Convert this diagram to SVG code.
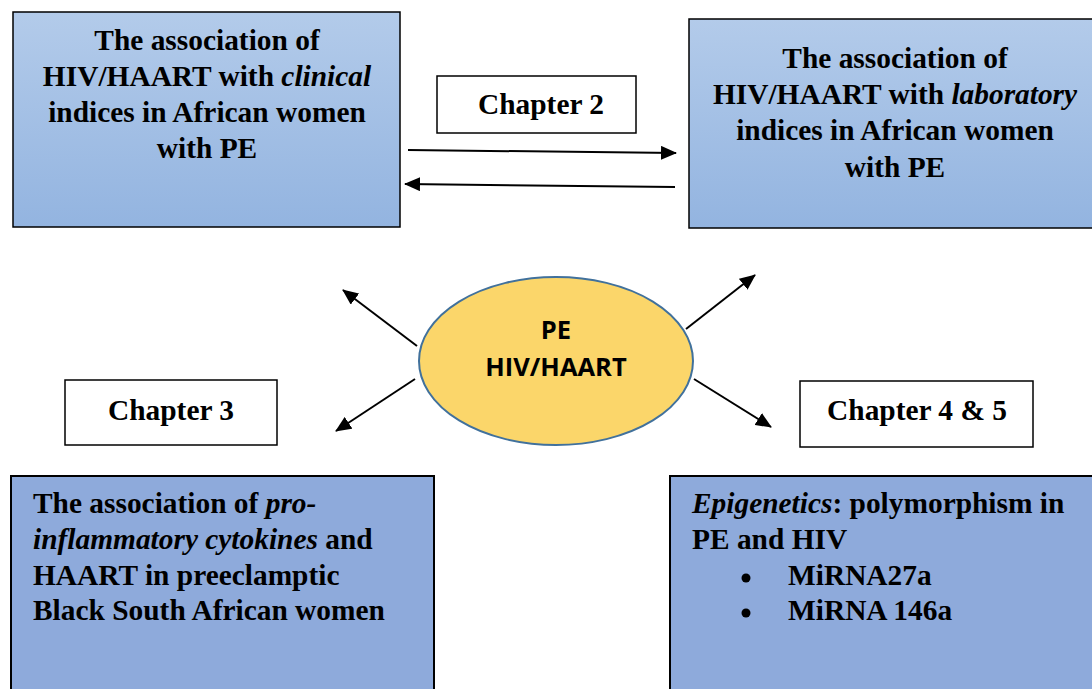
<svg xmlns="http://www.w3.org/2000/svg" width="1092" height="689" viewBox="0 0 1092 689">
<defs>
<linearGradient id="g" x1="0" y1="0" x2="0" y2="1">
<stop offset="0" stop-color="#b3cbea"/>
<stop offset="1" stop-color="#93b4e0"/>
</linearGradient>
<marker id="ah2" viewBox="0 0 16 14" refX="15" refY="7" markerWidth="16" markerHeight="14" markerUnits="userSpaceOnUse" orient="auto">
<path d="M0,0 L16,7 L0,14 z" fill="#000"/>
</marker>
</defs>
<style>
.t{font-family:"Liberation Serif","Times New Roman",serif;font-weight:bold;font-size:29.4px;fill:#000}
.c{text-anchor:middle}
.box{stroke:#000;stroke-width:1.5}
.lbl{fill:#fff;stroke:#000;stroke-width:1.5}
.bot{fill:#8eaadb;stroke:#000;stroke-width:2}
.con{stroke:#000;stroke-width:2;fill:none;marker-end:url(#ah2)}
.s{font-family:"Open Sans","Liberation Sans",sans-serif;font-weight:bold;font-size:25.5px;text-anchor:middle}
</style>
<g id="connectors">
<line class="con" x1="408" y1="150" x2="676" y2="153"/>
<line class="con" x1="675" y1="187" x2="405" y2="184"/>
<line class="con" x1="417" y1="346" x2="343" y2="290"/>
<line class="con" x1="415" y1="379" x2="336" y2="431"/>
<line class="con" x1="686" y1="329" x2="755" y2="275"/>
<line class="con" x1="694" y1="379" x2="771" y2="427"/>
</g>
<g id="clinical">
<rect class="box" x="13" y="12" width="387" height="215" fill="url(#g)"/>
<text class="t c" x="207" y="50">The association of</text>
<text class="t c" x="207" y="86">HIV/HAART with <tspan font-style="italic">clinical</tspan></text>
<text class="t c" x="207" y="122">indices in African women</text>
<text class="t c" x="207" y="158">with PE</text>
</g>
<g id="laboratory">
<rect class="box" x="689" y="19" width="410" height="209" fill="url(#g)"/>
<text class="t c" x="895" y="68">The association of</text>
<text class="t c" x="895" y="104">HIV/HAART with <tspan font-style="italic">laboratory</tspan></text>
<text class="t c" x="895" y="140">indices in African women</text>
<text class="t c" x="895" y="177">with PE</text>
</g>
<g id="chapter2">
<rect class="lbl" x="437" y="76" width="199" height="57"/>
<text class="t c" x="541" y="114">Chapter 2</text>
</g>
<g id="center">
<ellipse cx="556" cy="361" rx="137" ry="84" fill="#fbd66a" stroke="#41719c" stroke-width="2"/>
<text class="s" x="556" y="339">PE</text>
<text class="s" x="556" y="376">HIV/HAART</text>
</g>
<g id="chapter3">
<rect class="lbl" x="65" y="380" width="212" height="65"/>
<text class="t c" x="171" y="420">Chapter 3</text>
</g>
<g id="chapter45">
<rect class="lbl" x="800" y="381" width="233" height="66"/>
<text class="t c" x="917" y="420">Chapter 4 &amp; 5</text>
</g>
<g id="cytokines">
<rect class="bot" x="11" y="476" width="423" height="220"/>
<text class="t" x="33" y="513">The association of <tspan font-style="italic">pro-</tspan></text>
<text class="t" x="33" y="549"><tspan font-style="italic">inflammatory cytokines</tspan> and</text>
<text class="t" x="33" y="585">HAART in preeclamptic</text>
<text class="t" x="33" y="620">Black South African women</text>
</g>
<g id="epigenetics">
<rect class="bot" x="670" y="476" width="430" height="220"/>
<text class="t" x="692" y="513"><tspan font-style="italic">Epigenetics</tspan>: polymorphism in</text>
<text class="t" x="692" y="549">PE and HIV</text>
<circle cx="746" cy="578" r="4.5" fill="#000"/>
<text class="t" x="788" y="585">MiRNA27a</text>
<circle cx="746" cy="613" r="4.5" fill="#000"/>
<text class="t" x="788" y="620">MiRNA 146a</text>
</g>
</svg>
